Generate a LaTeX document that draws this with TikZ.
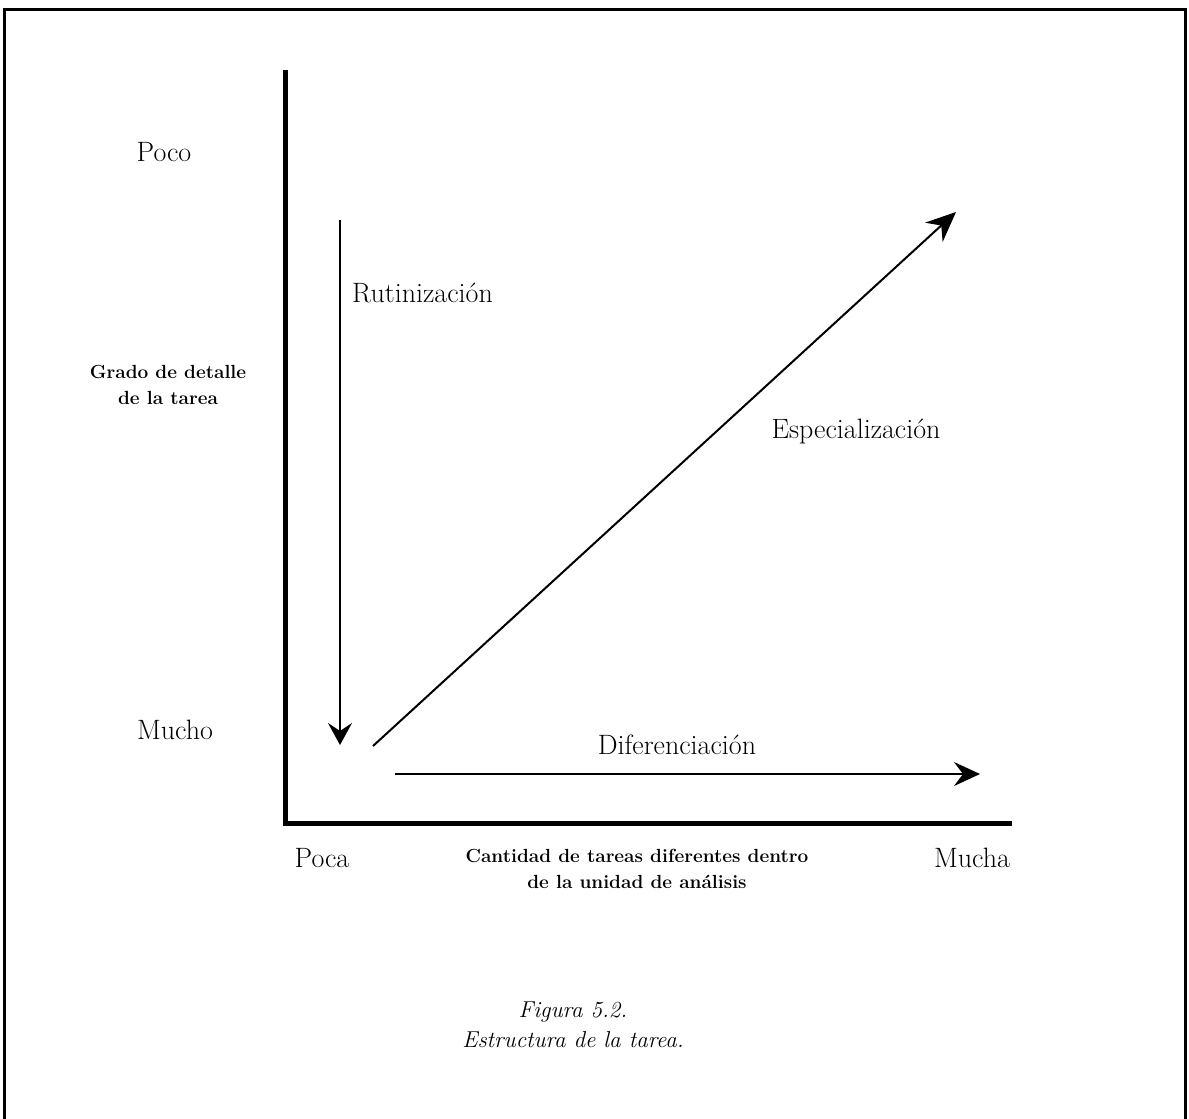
\documentclass[tikz,border=0pt]{standalone}
\usetikzlibrary{arrows.meta,calc}
\begin{document}
\begin{tikzpicture}[x=1pt,y=-1pt,
  frameline/.style={line width=3pt,line cap=rect},
  axisline/.style={line width=5pt},
  flowarrow/.style={line width=2pt,-{Stealth[length=22pt,width=24pt,inset=8pt]}},
  lbl/.style={inner sep=0pt,font=\fontsize{28}{32}\selectfont},
  axislbl/.style={inner sep=0pt,align=center,font=\fontsize{19}{26}\selectfont\bfseries},
  captiontext/.style={inner sep=0pt,align=center,font=\fontsize{23}{27}\selectfont\itshape}]
\useasboundingbox (0,0) rectangle (1189,1119);
% outer frame, open at the bottom
\draw[frameline] (4,1125) -- (4,9) -- (1185,9) -- (1185,1125);
% axes
\coordinate (ytop) at (285,70);
\coordinate (orig) at (285,823);
\coordinate (xend) at (1012,823);
\draw[axisline] (ytop) -- ($(orig)+(0,2.5)$);
\draw[axisline] ($(orig)+(-2.5,0)$) -- (xend);
% arrows
\coordinate (r0) at (340,220);
\coordinate (r1) at (340,745);
\coordinate (e0) at (373,746);
\coordinate (e1) at (956,212);
\coordinate (d0) at (395,774);
\coordinate (d1) at (980,774);
\draw[flowarrow] (r0) -- (r1);
\draw[flowarrow,-{Stealth[length=30pt,width=26pt,inset=10pt]}] (e0) -- (e1);
\draw[flowarrow,-{Stealth[length=26pt,width=24pt,inset=9pt]}] (d0) -- (d1);
% labels
\node[lbl] (poco) at (164,152) {Poco};
\node[lbl] (mucho) at (175,730) {Mucho};
\node[lbl,anchor=west] (rut) at (352,293) {Rutinizaci\'on};
\node[lbl] (esp) at (856,431) {Especializaci\'on};
\node[lbl] (dif) at (677,745) {Diferenciaci\'on};
\node[lbl] (poca) at (322,858) {Poca};
\node[lbl] (mucha) at (972,858) {Mucha};
\node[axislbl] (ylab) at (168,385) {Grado de detalle\\de la tarea};
\node[axislbl] (xlab) at (637,869) {Cantidad de tareas diferentes dentro\\de la unidad de an\'alisis};
\node[captiontext] (fig) at (573,1012) {Figura 5.2.};
\node[captiontext] (title) at (573,1040) {Estructura de la tarea.};
\end{tikzpicture}
\end{document}
